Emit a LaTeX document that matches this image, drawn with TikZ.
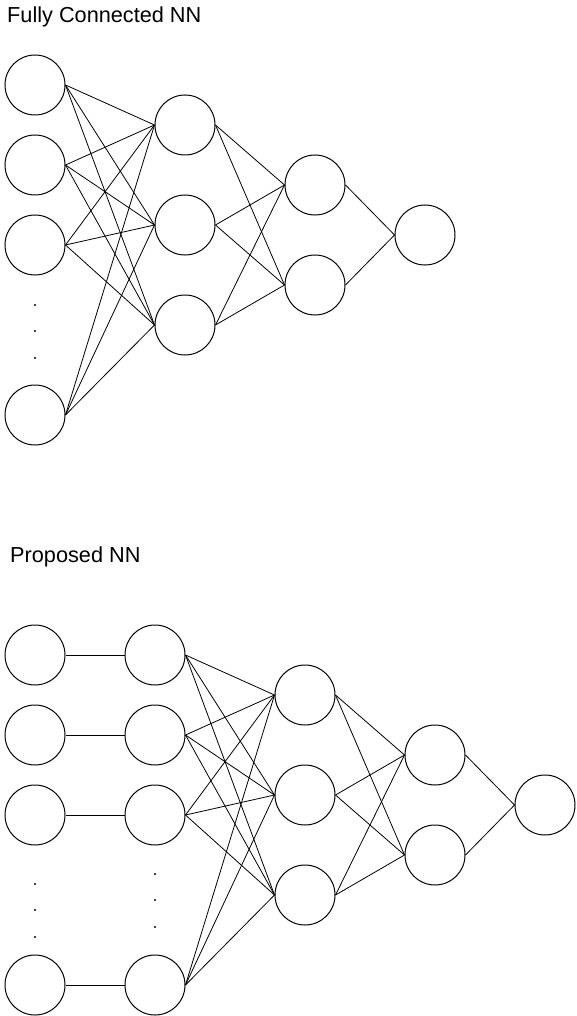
\documentclass[tikz,border=0pt]{standalone}
\usepackage{fontspec}
\setmainfont{Liberation Sans}
\begin{document}
\begin{tikzpicture}[x=1pt,y=-1pt,
  neuron/.style={circle,draw=black,line width=1pt,minimum size=60pt,inner sep=0pt},
  conn/.style={line width=0.8pt,draw=black},
  dotmark/.style={circle,fill=black,inner sep=0pt,minimum size=2.2pt},
  title/.style={anchor=base west,font=\fontsize{21.7}{26}\selectfont,inner sep=0pt}]
\useasboundingbox (0,0) rectangle (576,1016);
% ---------- top: fully connected ----------
\node[title] (t1) at (7,23) {Fully Connected NN};
\node[neuron] (a1) at (35,85) {};
\node[neuron] (a2) at (35,165) {};
\node[neuron] (a3) at (35,245) {};
\node[neuron] (a4) at (35,415) {};
\node[dotmark] (ad1) at (35,305) {};
\node[dotmark] (ad2) at (35,331) {};
\node[dotmark] (ad3) at (35,358) {};
\node[neuron] (b1) at (185,125) {};
\node[neuron] (b2) at (185,225) {};
\node[neuron] (b3) at (185,325) {};
\node[neuron] (c1) at (315,185) {};
\node[neuron] (c2) at (315,285) {};
\node[neuron] (d1) at (425,235) {};
\foreach \i in {1,2,3,4}
  \foreach \j in {1,2,3}
    \draw[conn] (a\i.east) -- (b\j.west);
\foreach \i in {1,2,3}
  \foreach \j in {1,2}
    \draw[conn] (b\i.east) -- (c\j.west);
\foreach \i in {1,2}
  \draw[conn] (c\i.east) -- (d1.west);
% ---------- bottom: proposed ----------
\node[title] (t2) at (10,562) {Proposed NN};
\node[neuron] (p1) at (35,655) {};
\node[neuron] (p2) at (35,735) {};
\node[neuron] (p3) at (35,815) {};
\node[neuron] (p4) at (35,985) {};
\node[dotmark] (pd1) at (35,884) {};
\node[dotmark] (pd2) at (35,910) {};
\node[dotmark] (pd3) at (35,937) {};
\node[neuron] (q1) at (155,655) {};
\node[neuron] (q2) at (155,735) {};
\node[neuron] (q3) at (155,815) {};
\node[neuron] (q4) at (155,985) {};
\node[dotmark] (qd1) at (155,874) {};
\node[dotmark] (qd2) at (155,900) {};
\node[dotmark] (qd3) at (155,927) {};
\node[neuron] (r1) at (305,695) {};
\node[neuron] (r2) at (305,795) {};
\node[neuron] (r3) at (305,895) {};
\node[neuron] (s1) at (435,755) {};
\node[neuron] (s2) at (435,855) {};
\node[neuron] (o1) at (545,805) {};
\foreach \i in {1,2,3,4}
  \draw[conn] (p\i.east) -- (q\i.west);
\foreach \i in {1,2,3,4}
  \foreach \j in {1,2,3}
    \draw[conn] (q\i.east) -- (r\j.west);
\foreach \i in {1,2,3}
  \foreach \j in {1,2}
    \draw[conn] (r\i.east) -- (s\j.west);
\foreach \i in {1,2}
  \draw[conn] (s\i.east) -- (o1.west);
\end{tikzpicture}
\end{document}
